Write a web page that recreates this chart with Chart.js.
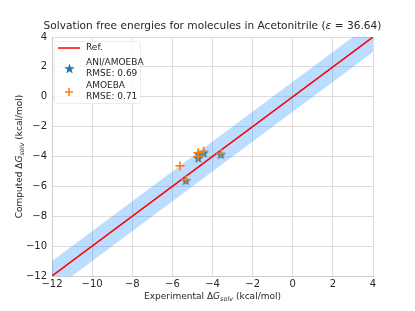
<!DOCTYPE html>
<html>
<head>
<meta charset="utf-8">
<script src="https://cdn.jsdelivr.net/npm/chart.js@4"></script>
<style>
  body { margin: 0; background: #fff; }
  #wrap { width: 415px; height: 311px; }
</style>
</head>
<body>
<div id="wrap"><canvas id="myChart" width="415" height="311"></canvas></div>
<script>
const ctx = document.getElementById('myChart')

// values (kcal/mol)
const refLine = [-12, 4]
const bandWidth = 1
const aniExp = [-5.33, -4.71, -4.71, -4.44, -3.58]
const aniCalc = [-5.6, -3.8, -4.1, -3.75, -3.85]
const amoebaExp = [-5.62, -5.33, -4.71, -4.71, -4.44, -3.58]
const amoebaCalc = [-4.63, -5.55, -3.75, -4.0, -3.65, -3.8]
const tickValues = [-12, -10, -8, -6, -4, -2, 0, 2, 4]
const legendLabels = [['Ref.'], ['ANI/AMOEBA', 'RMSE: 0.69'], ['AMOEBA', 'RMSE: 0.71']]

const font = 'DejaVu Sans'

// filled star like matplotlib '*'
function makeStar(size, color) {
  const c = document.createElement('canvas')
  c.width = size
  c.height = size
  const g = c.getContext('2d')
  const r = size / 2
  g.fillStyle = color
  g.beginPath()
  for (let i = 0; i < 10; i++) {
    const rad = i % 2 === 0 ? r : r * 0.4
    const a = -Math.PI / 2 + (i * Math.PI) / 5
    g.lineTo(r + rad * Math.cos(a), r + 0.5 + rad * Math.sin(a))
  }
  g.closePath()
  g.fill()
  return c
}
const star = makeStar(11, '#1f77b4')

const minus = (v) => String(v).replace('-', '\u2212')

// fill between the band lines, clipped to the plot area
const band = {
  id: 'band',
  beforeDatasetsDraw(chart) {
    const g = chart.ctx
    const a = chart.chartArea
    const up = chart.getDatasetMeta(0).data
    const lo = chart.getDatasetMeta(1).data
    g.save()
    g.beginPath()
    g.rect(a.left, a.top, a.right - a.left, a.bottom - a.top)
    g.clip()
    g.beginPath()
    up.forEach((p, i) => (i ? g.lineTo(p.x, p.y) : g.moveTo(p.x, p.y)))
    for (let i = lo.length - 1; i >= 0; i--) g.lineTo(lo[i].x, lo[i].y)
    g.closePath()
    g.fillStyle = 'rgba(30,144,255,0.3)'
    g.fill()
    g.restore()
  },
}

// title, axis titles with subscripts, legend
const extras = {
  id: 'extras',
  afterDraw(chart) {
    const g = chart.ctx
    const a = chart.chartArea
    g.save()
    g.fillStyle = '#262626'
    g.textBaseline = 'middle'

    // title
    const tf = '10.6px ' + font
    const t1 = 'Solvation free energies for molecules in Acetonitrile ('
    const t2 = '\u03b5'
    const t3 = ' = 36.64)'
    g.font = tf
    const w1 = g.measureText(t1).width
    const w3 = g.measureText(t3).width
    g.font = 'italic ' + tf
    const w2 = g.measureText(t2).width
    let x = (a.left + a.right) / 2 - (w1 + w2 + w3) / 2
    const ty = 26
    g.textAlign = 'left'
    g.font = tf
    g.fillText(t1, x, ty)
    x += w1
    g.font = 'italic ' + tf
    g.fillText(t2, x, ty)
    x += w2
    g.font = tf
    g.fillText(t3, x, ty)

    // axis title drawn in pieces
    function axisTitle(pre, cx, cy) {
      const parts = [
        [pre + ' \u0394', '9px ' + font, 0],
        ['G', 'italic 9px ' + font, 0],
        ['solv', 'italic 6.5px ' + font, 2.5],
        [' (kcal/mol)', '9px ' + font, 0],
      ]
      let total = 0
      parts.forEach((p) => {
        g.font = p[1]
        total += g.measureText(p[0]).width
      })
      let px = cx - total / 2
      parts.forEach((p) => {
        g.font = p[1]
        g.fillText(p[0], px, cy + p[2])
        px += g.measureText(p[0]).width
      })
    }
    axisTitle('Experimental', (a.left + a.right) / 2, 297)
    g.save()
    g.translate(20, (a.top + a.bottom) / 2)
    g.rotate(-Math.PI / 2)
    axisTitle('Computed', 0, 0)
    g.restore()

    // legend
    const lx = a.left + 2
    const ly = a.top + 4
    g.fillStyle = 'rgba(255,255,255,0.8)'
    g.strokeStyle = '#ececec'
    g.lineWidth = 1
    g.beginPath()
    g.roundRect(lx + 0.5, ly + 0.5, 86, 62, 2)
    g.fill()
    g.stroke()

    g.fillStyle = '#262626'
    g.font = '9px ' + font
    g.strokeStyle = 'red'
    g.lineWidth = 1.5
    g.beginPath()
    g.moveTo(lx + 4, ly + 7)
    g.lineTo(lx + 26, ly + 7)
    g.stroke()
    g.fillText(legendLabels[0][0], lx + 32, ly + 7)

    g.drawImage(star, lx + 10, ly + 22)
    g.fillText(legendLabels[1][0], lx + 32, ly + 22)
    g.fillText(legendLabels[1][1], lx + 32, ly + 33)

    g.strokeStyle = '#ff7f0e'
    g.lineWidth = 1.5
    g.beginPath()
    g.moveTo(lx + 11, ly + 51)
    g.lineTo(lx + 19, ly + 51)
    g.moveTo(lx + 15, ly + 47)
    g.lineTo(lx + 15, ly + 55)
    g.stroke()
    g.fillText(legendLabels[2][0], lx + 32, ly + 45)
    g.fillText(legendLabels[2][1], lx + 32, ly + 56)

    g.restore()
  },
}

new Chart(ctx, {
  type: 'scatter',
  data: {
    datasets: [
      {
        type: 'line',
        label: 'upper',
        data: refLine.map((v) => ({ x: v, y: v + bandWidth })),
        borderWidth: 0,
        showLine: false,
        pointRadius: 0,
        fill: false,
        order: 5,
      },
      {
        type: 'line',
        label: 'lower',
        data: refLine.map((v) => ({ x: v, y: v - bandWidth })),
        borderWidth: 0,
        showLine: false,
        pointRadius: 0,
        fill: false,
        order: 4,
      },
      {
        type: 'line',
        label: 'Ref.',
        data: refLine.map((v) => ({ x: v, y: v })),
        borderColor: '#ff0000',
        borderWidth: 1.5,
        pointRadius: 0,
        fill: false,
        order: 3,
      },
      {
        label: 'ANI/AMOEBA',
        data: aniExp.map((v, i) => ({ x: v, y: aniCalc[i] })),
        pointStyle: star,
        order: 2,
      },
      {
        label: 'AMOEBA',
        data: amoebaExp.map((v, i) => ({ x: v, y: amoebaCalc[i] })),
        pointStyle: 'cross',
        pointRadius: 4.5,
        borderColor: '#ff7f0e',
        borderWidth: 1.6,
        order: 1,
      },
    ],
  },
  options: {
    responsive: false,
    animation: false,
    layout: { padding: { top: 37, right: 42, left: 0, bottom: 0 } },
    plugins: {
      legend: { display: false },
      tooltip: { enabled: false },
    },
    scales: {
      x: {
        type: 'linear',
        min: -12,
        max: 4,
        afterBuildTicks: (s) => { s.ticks = tickValues.map((v) => ({ value: v })) },
        afterFit: (s) => { s.height = 35 },
        ticks: { callback: minus, font: { family: font, size: 10 }, color: '#262626', padding: 2, maxRotation: 0 },
        grid: { color: '#dcdcdc', drawTicks: false },
        border: { color: '#cccccc' },
      },
      y: {
        type: 'linear',
        min: -12,
        max: 4,
        afterBuildTicks: (s) => { s.ticks = tickValues.map((v) => ({ value: v })) },
        afterFit: (s) => { s.width = 52 },
        ticks: { callback: minus, font: { family: font, size: 10 }, color: '#262626', padding: 5 },
        grid: { color: '#dcdcdc', drawTicks: false },
        border: { color: '#cccccc' },
      },
    },
  },
  plugins: [band, extras],
})
</script>
</body>
</html>
